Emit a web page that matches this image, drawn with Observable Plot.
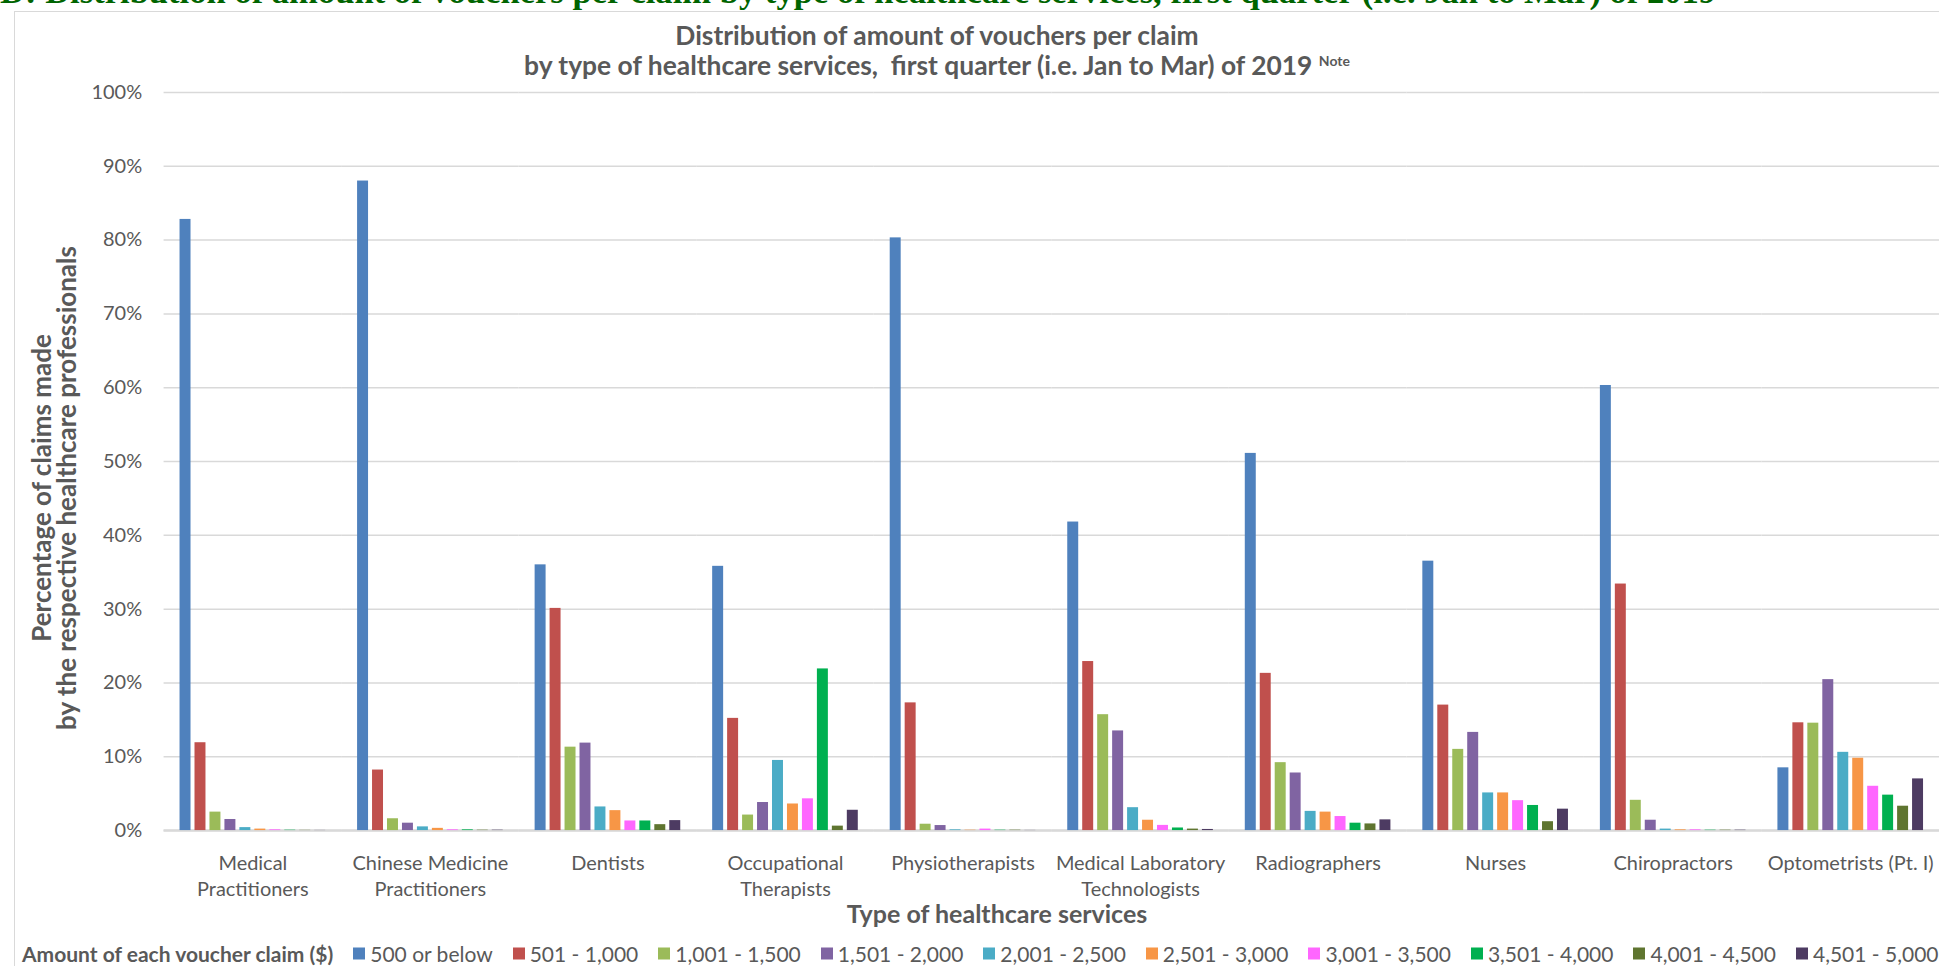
<!DOCTYPE html>
<html>
<head>
<meta charset="utf-8">
<script src="https://cdn.jsdelivr.net/npm/d3@7"></script>
<script src="https://cdn.jsdelivr.net/npm/@observablehq/plot@0.6"></script>
<style>
  html, body { margin: 0; padding: 0; overflow: hidden; background: #fff; }
  #page { position: relative; width: 1939px; height: 966px; overflow: hidden;
          font-family: Lato, "Open Sans", sans-serif; color: #595959; }
  #heading { position: absolute; left: 0; top: -27px; white-space: nowrap;
             font: bold 34.6px/37px "Liberation Serif", "Times New Roman", serif; color: #006400; }
  #frame { position: absolute; left: 14px; top: 11px; width: 2000px; height: 1000px;
           border: 1.5px solid #d9d9d9; box-sizing: border-box; }
  #title { position: absolute; left: 937px; top: 20px; transform: translateX(-50%);
           text-align: center; font-weight: bold; font-size: 26.4px; line-height: 30px; white-space: nowrap; }
  #title sup { font-size: 14px; vertical-align: 9px; line-height: 0; }
  #chart { position: absolute; left: 0; top: 80px; }
  #ytitle { position: absolute; left: 53.5px; top: 488px; transform: translate(-50%, -50%) rotate(-90deg);
            text-align: center; font-weight: bold; font-size: 26px; line-height: 25px; white-space: nowrap; }
  #xtitle { position: absolute; left: 997px; top: 913px; transform: translate(-50%, -50%);
            font-weight: bold; font-size: 25px; white-space: nowrap; }
  #legend { position: absolute; left: 22px; top: 953px; transform: translateY(-50%);
            display: flex; align-items: center; white-space: nowrap; }
  #legend .head { font-weight: bold; font-size: 21px; margin-right: 20px; }
  #legend .item { display: flex; align-items: center; font-size: 21px; margin-right: 20px; }
  #legend .sw { width: 12px; height: 12px; margin-right: 5px; }
</style>
</head>
<body>
<div id="page">
  <div id="frame"></div>
  <div id="heading">D: Distribution of amount of vouchers per claim by type of healthcare services, first quarter (i.e. Jan to Mar) of 2019</div>
  <div id="title">Distribution of amount of vouchers per claim<br>by type of healthcare services,&nbsp; first quarter (i.e. Jan to Mar) of 2019 <sup>Note</sup></div>
  <div id="chart"></div>
  <div id="ytitle">Percentage of claims made<br>by the respective healthcare professionals</div>
  <div id="xtitle">Type of healthcare services</div>
  <div id="legend"></div>
</div>
<script>
// Voucher amount bands ($) and their colours
const bands = ["500 or below", "501 - 1,000", "1,001 - 1,500", "1,501 - 2,000", "2,001 - 2,500",
               "2,501 - 3,000", "3,001 - 3,500", "3,501 - 4,000", "4,001 - 4,500", "4,501 - 5,000"];
const bandColors = ["#4F81BD", "#C0504D", "#9BBB59", "#8064A2", "#4BACC6",
                    "#F79646", "#FF66FF", "#00B050", "#5F7530", "#4D3B62"];

// Types of healthcare services
const categories = ["Medical Practitioners", "Chinese Medicine Practitioners", "Dentists",
                    "Occupational Therapists", "Physiotherapists", "Medical Laboratory Technologists",
                    "Radiographers", "Nurses", "Chiropractors", "Optometrists (Pt. I)"];
const categoryLabels = ["Medical\nPractitioners", "Chinese Medicine\nPractitioners", "Dentists",
                        "Occupational\nTherapists", "Physiotherapists", "Medical Laboratory\nTechnologists",
                        "Radiographers", "Nurses", "Chiropractors", "Optometrists (Pt. I)"];

const yTicks = [0, 10, 20, 30, 40, 50, 60, 70, 80, 90, 100];

// Percentage of claims in each voucher band, one list per profession (same order as bands)
const medicalPractitioners   = [82.8, 11.9, 2.5, 1.5, 0.4, 0.2, 0.1, 0.05, 0.03, 0.02];
const chineseMedicine        = [88.0, 8.2, 1.6, 1.0, 0.5, 0.3, 0.1, 0.1, 0.05, 0.05];
const dentists               = [36.0, 30.1, 11.3, 11.85, 3.2, 2.7, 1.3, 1.3, 0.8, 1.35];
const occupationalTherapists = [35.8, 15.2, 2.1, 3.8, 9.5, 3.6, 4.3, 21.9, 0.6, 2.75];
const physiotherapists       = [80.3, 17.3, 0.86, 0.68, 0.1, 0.05, 0.2, 0.05, 0.05, 0.02];
const medicalLabTechnologists= [41.8, 22.9, 15.7, 13.5, 3.1, 1.4, 0.7, 0.35, 0.2, 0.15];
const radiographers          = [51.1, 21.3, 9.2, 7.8, 2.6, 2.5, 1.9, 1.0, 0.9, 1.45];
const nurses                 = [36.5, 17.0, 11.0, 13.3, 5.1, 5.1, 4.05, 3.4, 1.2, 2.9];
const chiropractors          = [60.3, 33.4, 4.1, 1.4, 0.2, 0.1, 0.1, 0.05, 0.05, 0.05];
const optometrists           = [8.5, 14.6, 14.55, 20.45, 10.6, 9.8, 6.0, 4.8, 3.3, 7.0];

const shares = [medicalPractitioners, chineseMedicine, dentists, occupationalTherapists, physiotherapists,
                medicalLabTechnologists, radiographers, nurses, chiropractors, optometrists];

const rows = categories.flatMap((category, i) =>
  bands.map((band, j) => ({category, band, share: shares[i][j]})));

const labelOf = new Map(categories.map((c, i) => [c, categoryLabels[i]]));

const chart = Plot.plot({
  width: 1944,
  height: 850,
  marginLeft: 164,
  marginRight: 0,
  marginTop: 12,
  marginBottom: 98,
  style: {fontFamily: "Lato, 'Open Sans', sans-serif", fontSize: "20px", color: "#595959", background: "transparent", overflow: "visible"},
  fx: {domain: categories, padding: 0, label: null},
  x: {domain: bands, paddingInner: 0.235, paddingOuter: 0.93, axis: null},
  y: {domain: [0, 100], label: null},
  color: {domain: bands, range: bandColors},
  marks: [
    Plot.gridY(yTicks, {stroke: "#d9d9d9", strokeOpacity: 1, strokeWidth: 1.5}),
    Plot.ruleY([0], {stroke: "#d9d9d9", strokeWidth: 2.5}),
    Plot.axisY(yTicks, {tickSize: 0, tickPadding: 22, tickFormat: d => d + "%", label: null, fontSize: 20}),
    Plot.axisFx({anchor: "bottom", tickSize: 0, tickPadding: 21, lineHeight: 1.3, fontSize: 20,
                 tickFormat: c => labelOf.get(c), label: null}),
    Plot.barY(rows, {fx: "category", x: "band", y: "share", fill: "band"})
  ]
});
document.getElementById("chart").appendChild(chart);

// Legend row under the chart
const legend = d3.select("#legend");
legend.append("span").attr("class", "head").text("Amount of each voucher claim ($)");
bands.forEach((b, i) => {
  const item = legend.append("span").attr("class", "item");
  item.append("span").attr("class", "sw").style("background", bandColors[i]);
  item.append("span").text(b);
});
</script>
</body>
</html>
